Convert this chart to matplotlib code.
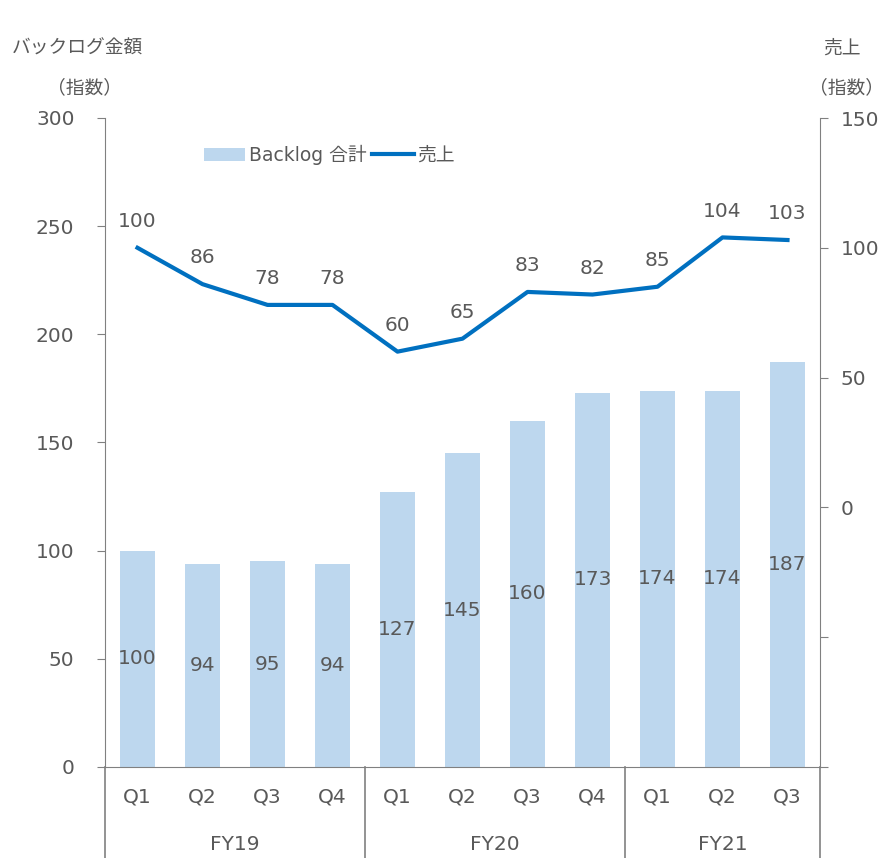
import matplotlib.pyplot as plt
import matplotlib.transforms as mtransforms
from matplotlib.patches import Patch
from matplotlib.lines import Line2D

plt.rcParams['font.family'] = ['DejaVu Sans', 'Noto Sans CJK JP']

# data
quarters = ["Q1", "Q2", "Q3", "Q4", "Q1", "Q2", "Q3", "Q4", "Q1", "Q2", "Q3"]
fiscal_years = ["FY19", "FY20", "FY21"]
fy_sizes = [4, 4, 3]
backlog = [100, 94, 95, 94, 127, 145, 160, 173, 174, 174, 187]
sales = [100, 86, 78, 78, 60, 65, 83, 82, 85, 104, 103]

bar_color = "#BDD7EE"
line_color = "#0070C0"
text_color = "#595959"
axis_color = "#808080"
fs = 14.5
fs_title = 13.5

fig = plt.figure(figsize=(8.84, 8.58), dpi=100)
ax = fig.add_axes([105 / 884, 1 - 767 / 858, 715 / 884, 649 / 858])
ax2 = ax.twinx()

x = list(range(len(quarters)))
ax.bar(x, backlog, width=0.54, color=bar_color, zorder=2)
ax.set_xlim(-0.5, len(quarters) - 0.5)
ax.set_ylim(0, 300)
ax.set_yticks(range(0, 301, 50))

for xi, v in zip(x, backlog):
    ax.text(xi, v / 2, str(v), ha="center", va="center", fontsize=fs, color=text_color)

ax2.plot(x, sales, color=line_color, lw=3, zorder=3)
ax2.set_ylim(-100, 150)
ax2.set_yticks([-100, -50, 0, 50, 100, 150])
ax2.set_yticklabels(["", "", "0", "50", "100", "150"])
for xi, v in zip(x, sales):
    ax2.annotate(str(v), (xi, v), xytext=(0, 19), textcoords="offset points",
                 ha="center", va="center", fontsize=fs, color=text_color)

# axes styling
ax.spines["top"].set_visible(False)
ax2.spines["top"].set_visible(False)
for a in (ax, ax2):
    for s in ("left", "right", "bottom"):
        a.spines[s].set_color(axis_color)
ax.spines["right"].set_visible(False)
ax2.spines["left"].set_visible(False)
ax2.spines["bottom"].set_visible(False)
ax.tick_params(axis="y", length=6, color=axis_color, labelsize=fs, labelcolor=text_color, pad=16)
ax2.tick_params(axis="y", length=6, color=axis_color, labelsize=fs, labelcolor=text_color, pad=9)
ax.set_xticks(x)
ax.set_xticklabels(quarters)
ax.tick_params(axis="x", length=0, labelsize=fs, labelcolor=text_color, pad=15)

# group separators and fiscal year labels
trans = mtransforms.blended_transform_factory(ax.transData, ax.transAxes)
bottom_ext = -(858 - 767) / 649
start = -0.5
bounds = [start]
for fy, n in zip(fiscal_years, fy_sizes):
    center = start + n / 2
    ax.text(center, -(845 - 767) / 649, fy, transform=trans, ha="center", va="center",
            fontsize=fs, color=text_color)
    start += n
    bounds.append(start)
for b in bounds:
    ax.add_line(Line2D([b, b], [0, bottom_ext], transform=trans, color=axis_color,
                       lw=1.2, clip_on=False))

# legend
handles = [Patch(facecolor=bar_color, label="Backlog 合計"),
           Line2D([0], [0], color=line_color, lw=3, label="売上")]
ax.legend(handles=handles, loc="upper left", bbox_to_anchor=(0.115, 0.985), ncol=2,
          frameon=False, fontsize=fs_title, labelcolor=text_color, handlelength=2.2,
          handletextpad=0.2, columnspacing=0.3)

# axis titles
fig.text(12 / 884, 1 - 48 / 858, "バックログ金額", ha="left", va="center", fontsize=fs_title, color=text_color)
fig.text(85 / 884, 1 - 88 / 858, "（指数）", ha="center", va="center", fontsize=fs_title, color=text_color)
fig.text(842 / 884, 1 - 48 / 858, "売上", ha="center", va="center", fontsize=fs_title, color=text_color)
fig.text(846 / 884, 1 - 88 / 858, "（指数）", ha="center", va="center", fontsize=fs_title, color=text_color)

fig.savefig("out.png", dpi=100)
